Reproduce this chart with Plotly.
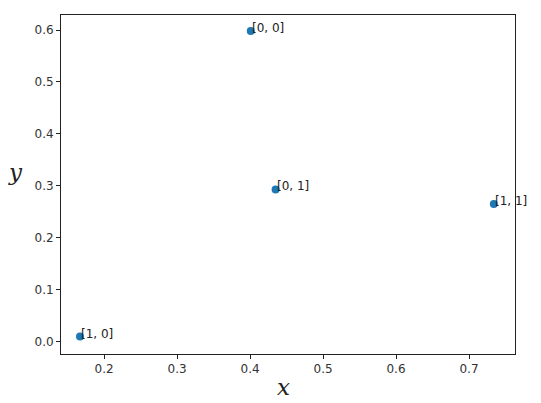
import plotly.graph_objects as go

xs = [0.401, 0.167, 0.435, 0.734]
ys = [0.598, 0.0095, 0.293, 0.265]
labels = ["[0, 0]", "[1, 0]", "[0, 1]", "[1, 1]"]
x_ticks = [0.2, 0.3, 0.4, 0.5, 0.6, 0.7]
y_ticks = [0.0, 0.1, 0.2, 0.3, 0.4, 0.5, 0.6]

fig = go.Figure()
fig.add_trace(go.Scatter(x=xs, y=ys, mode="markers",
                         marker=dict(color="#1f77b4", size=8, line=dict(width=0)),
                         showlegend=False, hoverinfo="skip"))

for x, y, t in zip(xs, ys, labels):
    fig.add_annotation(x=x, y=y, text=t, showarrow=False, xanchor="left", yanchor="bottom",
                       xshift=-1, yshift=-6, font=dict(family="DejaVu Sans", size=12, color="#222"))

fig.add_annotation(x=-0.101, y=0.538, xref="paper", yref="paper", text="<i>y</i>", showarrow=False,
                   xanchor="center", yanchor="middle", font=dict(family="DejaVu Serif", size=23, color="#222"))
fig.add_annotation(x=0.489, y=-0.052, xref="paper", yref="paper", text="<i>x</i>", showarrow=False,
                   xanchor="center", yanchor="top", font=dict(family="DejaVu Serif", size=23, color="#222"))

axis_common = dict(showgrid=False, zeroline=False, showline=True, linecolor="#222", linewidth=1,
                   mirror=True, ticks="outside", ticklen=4, tickcolor="#222",
                   tickfont=dict(family="DejaVu Sans", size=12, color="#333"))

fig.update_xaxes(range=[0.141, 0.763], tickvals=x_ticks, ticktext=[f"{v:.1f}" for v in x_ticks],
                 **axis_common)
fig.update_yaxes(range=[-0.024, 0.629], tickvals=y_ticks, ticktext=[f"{v:.1f}" for v in y_ticks],
                 **axis_common)

fig.update_layout(width=533, height=395, margin=dict(l=53, r=26, t=7, b=49),
                  plot_bgcolor="white", paper_bgcolor="white")

fig.write_html("out.html")
